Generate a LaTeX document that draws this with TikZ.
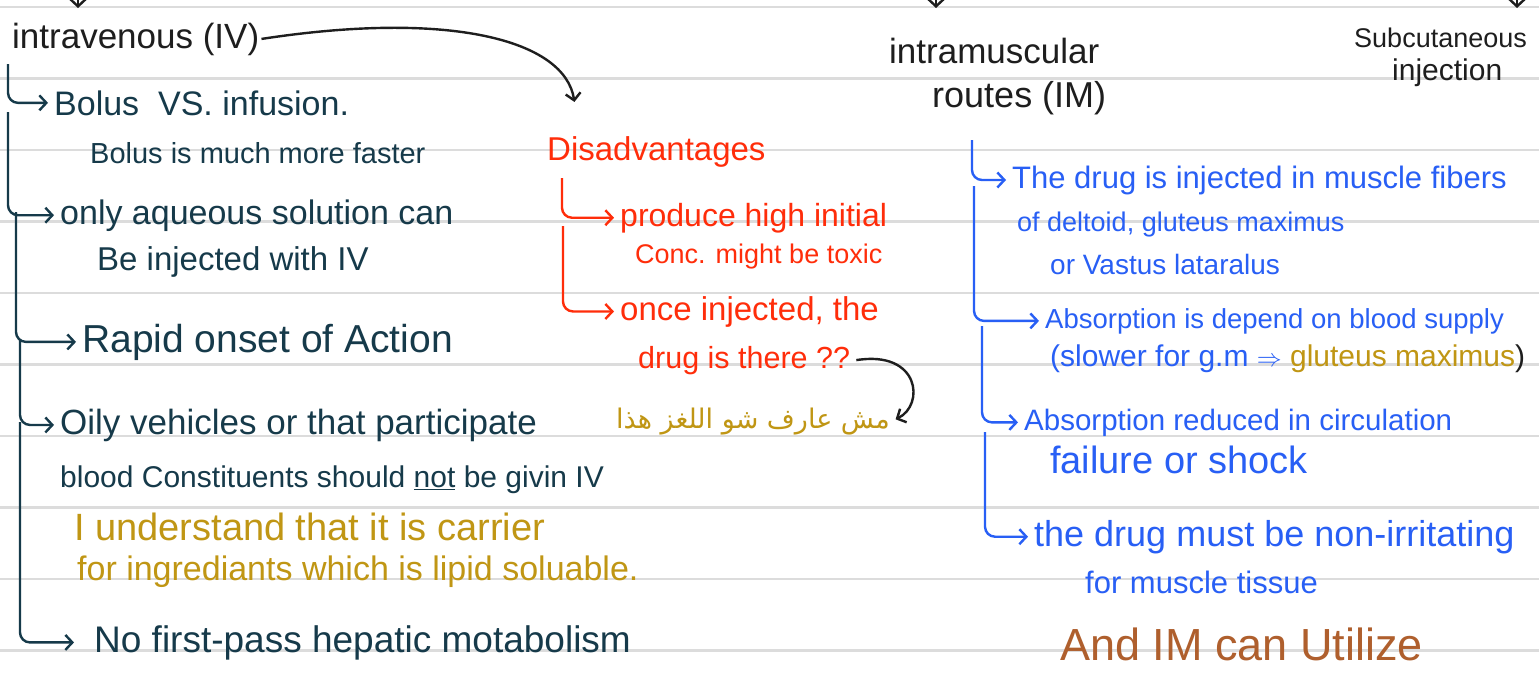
\documentclass[tikz,border=0pt]{standalone}
\usepackage{fontspec}
\setmainfont{Liberation Sans}
\newfontfamily\arabicfont[Script=Arabic]{DejaVu Sans}
\TeXXeTstate=1
\usetikzlibrary{arrows.meta}

\definecolor{hdr}{RGB}{30,30,30}
\definecolor{ink}{RGB}{22,58,74}
\definecolor{redink}{RGB}{255,45,10}
\definecolor{blueink}{RGB}{40,95,245}
\definecolor{gold}{RGB}{192,150,20}
\definecolor{brownink}{RGB}{175,95,45}
\definecolor{rule}{RGB}{220,220,220}

\newcommand{\hw}[1]{\fontsize{#1}{#1}\selectfont}

\begin{document}
\begin{tikzpicture}[x=1pt, y=-1pt
        , >={Straight Barb[length=7pt,width=15pt]}
        , note/.style={anchor=base west, inner sep=2pt}
        , link/.style={->, line width=2.4pt, rounded corners=10pt, shorten >=4pt}
        , ivlink/.style={link, draw=ink}
        , redlink/.style={link, draw=redink}
        , bluelink/.style={link, draw=blueink}
        , hdrlink/.style={link, draw=hdr}
        ]
        \fill[white] (0,0) rectangle (1539,672);
        \useasboundingbox (0,0) rectangle (1539,672);

        % paper
        \foreach \y in {7,78.5,150,221.5,293,364.5,436,507.5,579,650.5}
            \draw[rule, line width=2.5pt] (0,\y) -- (1539,\y);

        % arrows coming from above the page
        \coordinate (offa) at (78,-30);  \coordinate (tipa) at (78,8);
        \coordinate (offb) at (936,-30); \coordinate (tipb) at (936,8);
        \coordinate (offc) at (1517,-30); \coordinate (tipc) at (1517,8);
        \draw[hdrlink, shorten >=0pt] (offa) -- (tipa);
        \draw[hdrlink, shorten >=0pt] (offb) -- (tipb);
        \draw[hdrlink, shorten >=0pt] (offc) -- (tipc);

        % intravenous
        \node[note, text=hdr, font=\hw{35}] (iv) at (10,48) {intravenous (IV)};
        \node[note, text=ink, font=\hw{34}] (bolus) at (52,115) {Bolus \ VS. infusion.};
        \node[note, text=ink, font=\hw{29}] (bolusfast) at (88,163) {Bolus is much more faster};
        \node[note, text=ink, font=\hw{34}] (aqueous) at (58,224) {only aqueous solution can};
        \node[note, text=ink, font=\hw{33}] (aqinj) at (95,270) {Be injected with IV};
        \node[note, text=ink, font=\hw{39}] (rapid) at (80,352) {Rapid onset of Action};
        \node[note, text=ink, font=\hw{35}] (oily) at (58,434) {Oily vehicles or that participate};
        \node[note, text=ink, font=\hw{30}] (blood) at (58,487) {blood Constituents should \underline{not} be givin IV};
        \node[note, text=gold, font=\hw{38}] (carrier) at (72,540) {I understand that it is carrier};
        \node[note, text=gold, font=\hw{34}] (lipid) at (75,580) {for ingrediants which is lipid soluable.};
        \node[note, text=ink, font=\hw{37}] (nopass) at (92,652) {No first-pass hepatic motabolism};

        \coordinate (iva) at (8,64);
        \coordinate (ivb) at (8,112);
        \coordinate (ivc) at (16,212);
        \coordinate (ivd) at (20,340);
        \coordinate (ive) at (20,422);
        \draw[ivlink] (iva) |- (bolus.west);
        \draw[ivlink] (ivb) |- (aqueous.west);
        \draw[ivlink] (ivc) |- (rapid.west);
        \draw[ivlink] (ivd) |- (oily.west);
        \draw[ivlink, shorten >=18pt] (ive) |- (nopass.west);

        % disadvantages
        \node[note, text=redink, font=\hw{33}] (dis) at (545,160) {Disadvantages};
        \node[note, text=redink, font=\hw{32}] (produce) at (618,226) {produce high initial};
        \node[note, text=redink, font=\hw{27}] (conc) at (633,263) {Conc. might be toxic};
        \node[note, text=redink, font=\hw{33}] (once) at (618,320) {once injected, the};
        \node[note, text=redink, font=\hw{30.5}] (there) at (636,368) {drug is there ??};
        \node[note, anchor=base east, text=gold, font=\arabicfont\hw{27}] (arabic) at (892,428)
            {\beginR مش عارف شو اللغز هذا\endR};

        \coordinate (disa) at (562,178);
        \coordinate (disb) at (563,226);
        \draw[redlink] (disa) |- (produce.west);
        \draw[redlink] (disb) |- (once.west);

        \draw[hdrlink, rounded corners=0pt] (iv.east) .. controls (450,10) and (565,40) .. ([xshift=30pt,yshift=28pt]dis.north west);
        \draw[hdrlink, rounded corners=0pt] ([xshift=4pt]there.east) .. controls (920,350) and (925,405) .. (arabic.east);

        % intramuscular and subcutaneous
        \node[note, text=hdr, font=\hw{35}] (im) at (887,63) {intramuscular};
        \node[note, text=hdr, font=\hw{36}] (imroutes) at (930,107) {routes (IM)};
        \node[note, text=hdr, font=\hw{27}] (sc) at (1352,47) {Subcutaneous};
        \node[note, text=hdr, font=\hw{30}] (scinj) at (1390,80) {injection};

        \node[note, text=blueink, font=\hw{31}] (fibers) at (1010,188) {The drug is injected in muscle fibers};
        \node[note, text=blueink, font=\hw{27}] (deltoid) at (1015,231) {of deltoid, gluteus maximus};
        \node[note, text=blueink, font=\hw{28}] (vastus) at (1048,274) {or Vastus lataralus};
        \node[note, text=blueink, font=\hw{27.5}] (absorb) at (1043,328) {Absorption is depend on blood supply};
        \node[note, text=blueink, font=\hw{30}] (slower) at (1048,366)
            {(slower for g.m $\Rightarrow$ {\color{gold}gluteus maximus}{\color{hdr})}};
        \node[note, text=blueink, font=\hw{29.5}] (reduced) at (1022,430) {Absorption reduced in circulation};
        \node[note, text=blueink, font=\hw{38}] (shock) at (1048,473) {failure or shock};
        \node[note, text=blueink, font=\hw{36}] (irritate) at (1032,546) {the drug must be non-irritating};
        \node[note, text=blueink, font=\hw{31}] (tissue) at (1083,593) {for muscle tissue};
        \node[note, text=brownink, font=\hw{45}] (utilize) at (1058,660) {And IM can Utilize};

        \coordinate (ima) at (972,140);
        \coordinate (imb) at (974,186);
        \coordinate (imc) at (982,326);
        \coordinate (imd) at (985,432);
        \draw[bluelink] (ima) |- (fibers.west);
        \draw[bluelink] (imb) |- (absorb.west);
        \draw[bluelink] (imc) |- (reduced.west);
        \draw[bluelink] (imd) |- (irritate.west);

\end{tikzpicture}
\end{document}
